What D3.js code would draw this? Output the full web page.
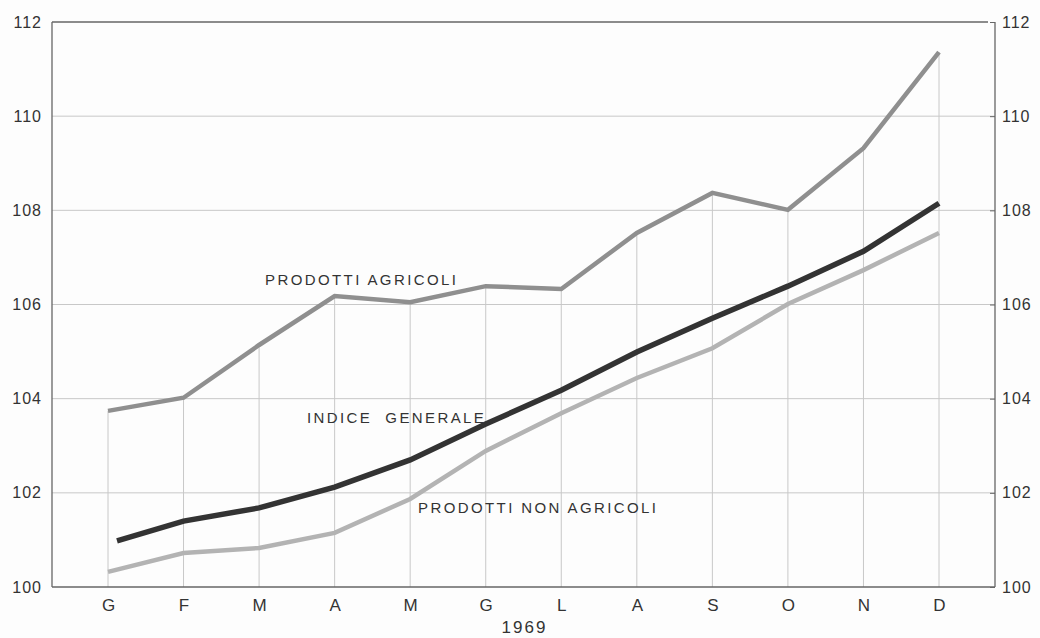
<!DOCTYPE html>
<html>
<head>
<meta charset="utf-8">
<script src="https://cdn.jsdelivr.net/npm/d3@7"></script>
<style>
  body { margin: 0; background: #fdfdfd; }
  svg { display: block; }
</style>
</head>
<body>
<div id="vis"></div>
<script>
// months 1969 (Italian initials)
let months = ['G', 'F', 'M', 'A', 'M', 'G', 'L', 'A', 'S', 'O', 'N', 'D'];
let yTicks = [100, 102, 104, 106, 108, 110, 112];

// index values
let agricoli = [103.74, 104.02, 105.14, 106.18, 106.05, 106.39, 106.33, 107.52, 108.37, 108.01, 109.32, 111.36];
let generale = [100.98, 101.40, 101.68, 102.12, 102.70, 103.46, 104.18, 104.99, 105.71, 106.39, 107.13, 108.15];
let nonAgricoli = [100.32, 100.72, 100.83, 101.15, 101.87, 102.89, 103.69, 104.44, 105.07, 106.01, 106.73, 107.52];

let W = 1040, H = 638;
let margin = { top: 22, left: 52, right: 45, bottom: 51 };
let font = 'Liberation Sans, Arial, sans-serif';

let svg = d3.select('#vis')
    .append('svg')
    .attr('width', W)
    .attr('height', H)
    .style('background-color', '#fdfdfd');

// x is a point scale over the month index so repeated letters stay separate
let x = d3.scalePoint()
    .domain(d3.range(months.length))
    .range([108, 939]);
let y = d3.scaleLinear()
    .domain([100, 112])
    .range([H - margin.bottom, margin.top]);

let x0 = margin.left, x1 = W - margin.right;

// horizontal grid
svg.append('g')
    .selectAll('line')
    .data(yTicks.filter(d => d > 100 && d < 112))
    .enter().append('line')
    .attr('x1', x0).attr('x2', x1)
    .attr('y1', d => y(d)).attr('y2', d => y(d))
    .attr('stroke', '#c8c8c8')
    .attr('stroke-width', 1);

// vertical drop lines from the top curve down to the base
svg.append('g')
    .selectAll('line')
    .data(d3.range(months.length))
    .enter().append('line')
    .attr('x1', d => x(d)).attr('x2', d => x(d))
    .attr('y1', d => y(agricoli[d]))
    .attr('y2', y(100))
    .attr('stroke', '#c8c8c8')
    .attr('stroke-width', 1);

// frame: left, top, bottom, right
let frame = svg.append('g').attr('stroke', '#666').attr('stroke-width', 1.3).attr('fill', 'none');
frame.append('line').attr('x1', x0).attr('x2', x0).attr('y1', y(112)).attr('y2', y(100));
frame.append('line').attr('x1', x0).attr('x2', x1 - 7).attr('y1', y(112)).attr('y2', y(112));
frame.append('line').attr('x1', x0).attr('x2', x1).attr('y1', y(100)).attr('y2', y(100));
frame.append('line').attr('x1', x1).attr('x2', x1).attr('y1', y(112)).attr('y2', y(100));

// right axis with ticks and labels
let rightAxis = d3.axisRight(y).tickValues(yTicks).tickSize(-5).tickPadding(7).tickFormat(d3.format('d'));
let ra = svg.append('g')
    .attr('transform', 'translate(' + x1 + ',0)')
    .call(rightAxis);
ra.select('.domain').remove();
ra.selectAll('line').attr('stroke', '#666');
ra.selectAll('text')
    .attr('font-family', font)
    .attr('font-size', 16)
    .attr('letter-spacing', 1)
    .attr('fill', '#333');

// left axis labels
let leftAxis = d3.axisLeft(y).tickValues(yTicks).tickSize(0).tickPadding(10).tickFormat(d3.format('d'));
let la = svg.append('g')
    .attr('transform', 'translate(' + x0 + ',0)')
    .call(leftAxis);
la.select('.domain').remove();
la.selectAll('text')
    .attr('font-family', font)
    .attr('font-size', 16)
    .attr('letter-spacing', 1)
    .attr('fill', '#333');

// bottom month labels
let xAxis = d3.axisBottom(x).tickSize(0).tickPadding(12).tickFormat(i => months[i]);
let xa = svg.append('g')
    .attr('transform', 'translate(0,' + y(100) + ')')
    .call(xAxis);
xa.select('.domain').remove();
xa.selectAll('text')
    .attr('font-family', font)
    .attr('font-size', 17)
    .attr('fill', '#333');

svg.append('text')
    .attr('x', (x0 + x1) / 2 + 1)
    .attr('y', 633)
    .attr('text-anchor', 'middle')
    .attr('font-family', font)
    .attr('font-size', 17)
    .attr('letter-spacing', 2)
    .attr('fill', '#333')
    .text('1969');

// series lines
let line = d3.line()
    .x((d, i) => x(i))
    .y(d => y(d));

svg.append('path')
    .datum(nonAgricoli)
    .attr('fill', 'none')
    .attr('stroke', '#b3b3b3')
    .attr('stroke-width', 4.5)
    .attr('d', line);

svg.append('path')
    .datum(agricoli)
    .attr('fill', 'none')
    .attr('stroke', '#8f8f8f')
    .attr('stroke-width', 4.5)
    .attr('d', line);

// indice generale starts a little to the right of the first month
let lineGen = d3.line()
    .x((d, i) => i === 0 ? x(0) + 9 : x(i))
    .y(d => y(d));
svg.append('path')
    .datum(generale)
    .attr('fill', 'none')
    .attr('stroke', '#333')
    .attr('stroke-width', 5.5)
    .attr('d', lineGen);

// series labels
let labels = [
    { text: 'PRODOTTI AGRICOLI', x: 265, y: 285 },
    { text: 'INDICE  GENERALE', x: 307, y: 423 },
    { text: 'PRODOTTI NON AGRICOLI', x: 418, y: 513 }
];
svg.append('g')
    .selectAll('text')
    .data(labels)
    .enter().append('text')
    .attr('x', d => d.x)
    .attr('y', d => d.y)
    .attr('font-family', font)
    .attr('font-size', 15)
    .attr('letter-spacing', 2.4)
    .attr('fill', '#333')
    .style('white-space', 'pre')
    .text(d => d.text);
</script>
</body>
</html>
